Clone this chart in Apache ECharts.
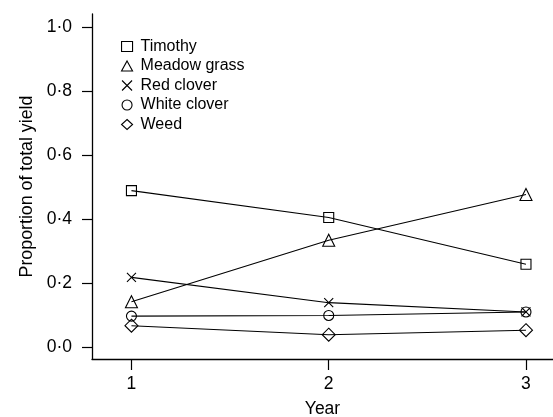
<!DOCTYPE html>
<html>
<head>
<meta charset="utf-8">
<script src="https://cdn.jsdelivr.net/npm/echarts@6/dist/echarts.min.js"></script>
<style>
  html, body { margin: 0; padding: 0; background: #fff; }
  #chart { width: 553px; height: 417px; }
</style>
</head>
<body>
<div id="chart"></div>
<script>
const years = [1, 2, 3];
const timothy = [0.488, 0.404, 0.258];
const meadowGrass = [0.141, 0.333, 0.476];
const redClover = [0.217, 0.138, 0.109];
const whiteClover = [0.096, 0.098, 0.109];
const weed = [0.066, 0.038, 0.052];
const yTicks = [0, 0.2, 0.4, 0.6, 0.8, 1.0];

const crossPath = 'path://M0,0L10,10M10,0L0,10';

const seriesDefs = [
  { name: 'Timothy', data: timothy, symbol: 'rect', size: 10 },
  { name: 'Meadow grass', data: meadowGrass, symbol: 'triangle', size: 12 },
  { name: 'Red clover', data: redClover, symbol: crossPath, size: 9 },
  { name: 'White clover', data: whiteClover, symbol: 'circle', size: 10 },
  { name: 'Weed', data: weed, symbol: 'diamond', size: 13 }
];

const font = 'Liberation Sans, Arial, sans-serif';
const chart = echarts.init(document.getElementById('chart'), null, { renderer: 'canvas' });

const option = {
  backgroundColor: '#fff',
  animation: false,
  grid: { left: 92, right: 0, top: 14, bottom: 58, containLabel: false, outerBoundsMode: 'none' },
  legend: {
    orient: 'vertical',
    left: 116,
    top: 33,
    itemWidth: 11,
    itemHeight: 10,
    itemGap: 2.5,
    textStyle: { fontFamily: font, fontSize: 16, lineHeight: 17, color: '#000', padding: [0, 0, 0, 3] },
    data: seriesDefs.map(s => ({ name: s.name, icon: s.symbol, itemStyle: { color: 'transparent', borderColor: '#000', borderWidth: 1.1 } }))
  },
  xAxis: {
    type: 'value',
    min: 0.8,
    max: 3.137,
    name: 'Year',
    nameLocation: 'middle',
    nameGap: 41,
    nameTextStyle: { fontFamily: font, fontSize: 17.5, color: '#000' },
    splitLine: { show: false },
    axisLine: { onZero: false, lineStyle: { color: '#000', width: 1.3 } },
    axisTick: { customValues: years, length: 11, lineStyle: { color: '#000', width: 1.2 } },
    axisLabel: { customValues: years, fontFamily: font, fontSize: 17.5, color: '#000', margin: 16 }
  },
  yAxis: {
    type: 'value',
    min: -0.038,
    max: 1.04,
    name: 'Proportion of total yield',
    nameLocation: 'middle',
    nameGap: 55,
    nameTextStyle: { fontFamily: font, fontSize: 17.8, color: '#000' },
    splitLine: { show: false },
    axisLine: { onZero: false, lineStyle: { color: '#000', width: 1.3 } },
    axisTick: { customValues: yTicks, length: 10, lineStyle: { color: '#000', width: 1.2 } },
    axisLabel: {
      customValues: yTicks,
      fontFamily: font, fontSize: 17.5, color: '#000', margin: 20,
      formatter: v => v.toFixed(1).replace('.', '\u00b7')
    }
  },
  series: seriesDefs.map(s => ({
    name: s.name,
    type: 'line',
    data: s.data.map((v, i) => [years[i], v]),
    symbol: s.symbol,
    symbolSize: s.size,
    showAllSymbol: true,
    lineStyle: { color: '#000', width: 1.1 },
    itemStyle: { color: 'transparent', borderColor: '#000', borderWidth: 1.1 },
    emphasis: { disabled: true }
  }))
};

chart.setOption(option);
</script>
</body>
</html>
